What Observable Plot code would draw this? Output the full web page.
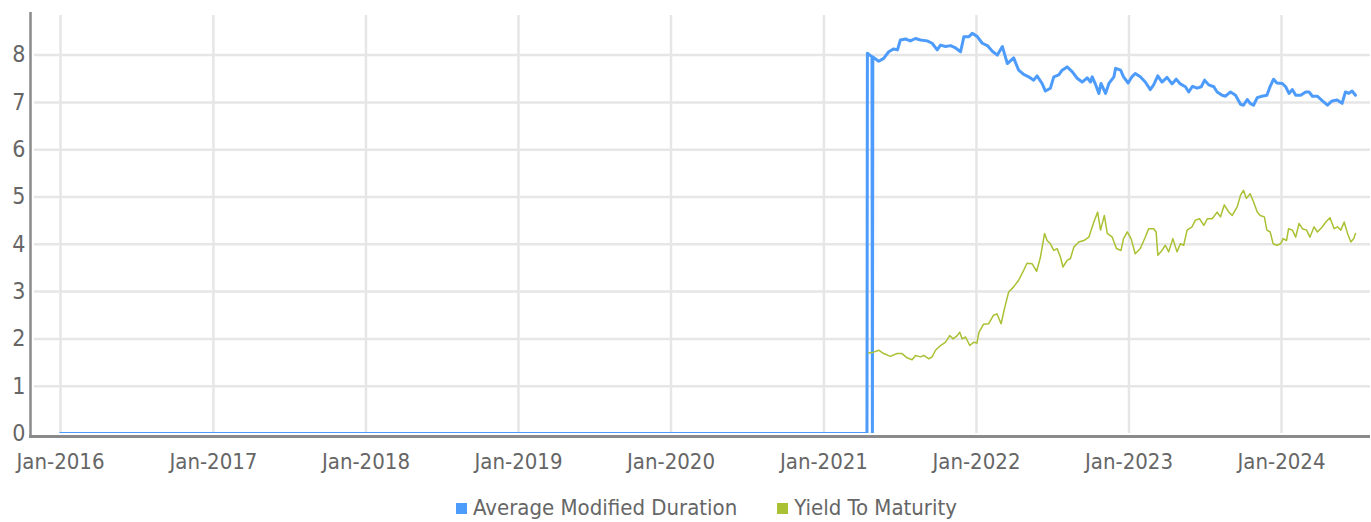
<!DOCTYPE html>
<html>
<head>
<meta charset="utf-8">
<script src="https://cdn.jsdelivr.net/npm/d3@7"></script>
<script src="https://cdn.jsdelivr.net/npm/@observablehq/plot@0.6"></script>
<style>
  html, body { margin: 0; padding: 0; background: #fff; }
  body { width: 1371px; height: 522px; overflow: hidden; font-family: "DejaVu Sans Condensed", "DejaVu Sans", sans-serif; }
  #legend { display: flex; justify-content: center; align-items: center; font-size: 22px; line-height: 26px; color: #666; margin-top: 5px; height: 26px; padding-left: 42px; }
  #legend .item { display: flex; align-items: center; }
  #legend .sw { width: 11px; height: 11px; margin-right: 6px; }
  #legend .gap { width: 40px; }
</style>
</head>
<body>
<div id="chart"></div>
<div id="legend"></div>
<script>
// ---- Data ----
const seriesNames = ["Average Modified Duration", "Yield To Maturity"];
const seriesColors = ["#4d9cfc", "#a9c132"];

const durDates = [
  "2016-01-01","2021-04-14","2021-04-15","2021-04-26","2021-04-27","2021-04-28","2021-05-12","2021-05-24",
  "2021-06-05","2021-06-17","2021-06-26","2021-07-03","2021-07-15","2021-07-27","2021-08-08","2021-08-20",
  "2021-09-05","2021-09-17","2021-09-29","2021-10-07","2021-10-19","2021-10-31","2021-11-12","2021-11-24",
  "2021-12-02","2021-12-14","2021-12-22","2022-01-03","2022-01-15","2022-01-27","2022-02-08","2022-02-20",
  "2022-03-04","2022-03-16","2022-03-31","2022-04-12","2022-04-24","2022-05-06","2022-05-18","2022-05-26",
  "2022-06-07","2022-06-15","2022-06-27","2022-07-05","2022-07-17","2022-07-25","2022-08-06","2022-08-18",
  "2022-08-30","2022-09-11","2022-09-23","2022-10-01","2022-10-05","2022-10-13","2022-10-21","2022-10-26",
  "2022-11-06","2022-11-14","2022-11-26","2022-11-30","2022-12-12","2022-12-19","2022-12-30","2023-01-08",
  "2023-01-16","2023-01-28","2023-02-09","2023-02-21","2023-03-01","2023-03-11","2023-03-21","2023-04-02",
  "2023-04-14","2023-04-24","2023-05-04","2023-05-16","2023-05-24","2023-06-02","2023-06-13","2023-06-23",
  "2023-07-01","2023-07-11","2023-07-23","2023-07-31","2023-08-12","2023-08-20","2023-09-01","2023-09-13",
  "2023-09-25","2023-10-02","2023-10-11","2023-10-18","2023-10-26","2023-11-04","2023-11-15","2023-11-27",
  "2023-12-05","2023-12-13","2023-12-21","2024-01-03","2024-01-11","2024-01-19","2024-01-27","2024-02-04",
  "2024-02-16","2024-02-28","2024-03-07","2024-03-15","2024-03-27","2024-04-08","2024-04-20","2024-05-01",
  "2024-05-13","2024-05-25","2024-06-02","2024-06-10","2024-06-18","2024-06-26"
];
const durValues = [
  0,0,8.04,7.96,0,7.96,7.87,7.93,
  8.07,8.13,8.11,8.32,8.34,8.30,8.35,8.32,
  8.30,8.25,8.11,8.21,8.18,8.20,8.15,8.07,
  8.39,8.39,8.46,8.39,8.25,8.20,8.08,8.00,
  8.18,7.82,7.94,7.68,7.59,7.54,7.47,7.56,
  7.40,7.24,7.30,7.54,7.58,7.68,7.75,7.65,
  7.51,7.43,7.52,7.43,7.54,7.38,7.19,7.40,
  7.19,7.40,7.54,7.72,7.68,7.54,7.41,7.54,
  7.61,7.54,7.43,7.27,7.37,7.56,7.43,7.53,
  7.39,7.49,7.39,7.33,7.22,7.34,7.30,7.33,
  7.47,7.37,7.33,7.22,7.15,7.13,7.22,7.15,
  6.96,6.94,7.06,6.98,6.94,7.10,7.13,7.15,
  7.34,7.49,7.41,7.40,7.33,7.19,7.27,7.15,
  7.15,7.22,7.22,7.13,7.13,7.03,6.94,7.03,
  7.05,6.98,7.22,7.19,7.24,7.15
];

const ytmDates = [
  "2021-04-18","2021-04-30","2021-05-12","2021-05-24","2021-06-09","2021-06-25","2021-07-07","2021-07-19",
  "2021-07-31","2021-08-08","2021-08-20","2021-08-28","2021-09-09","2021-09-17","2021-09-25","2021-10-07",
  "2021-10-19","2021-10-29","2021-11-06","2021-11-16","2021-11-22","2021-11-28","2021-12-06","2021-12-16",
  "2021-12-26","2022-01-02","2022-01-07","2022-01-18","2022-01-30","2022-02-11","2022-02-19","2022-03-01",
  "2022-03-09","2022-03-19","2022-03-31","2022-04-12","2022-04-24","2022-05-02","2022-05-14","2022-05-25",
  "2022-06-03","2022-06-13","2022-06-19","2022-06-27","2022-07-05","2022-07-13","2022-07-21","2022-07-27",
  "2022-08-06","2022-08-14","2022-08-22","2022-09-03","2022-09-15","2022-09-27","2022-10-01","2022-10-09",
  "2022-10-18","2022-10-25","2022-11-03","2022-11-10","2022-11-22","2022-12-02","2022-12-13","2022-12-19",
  "2022-12-28","2023-01-06","2023-01-16","2023-01-28","2023-02-09","2023-02-17","2023-03-01","2023-03-07",
  "2023-03-11","2023-03-21","2023-03-29","2023-04-06","2023-04-16","2023-04-26","2023-05-04","2023-05-12",
  "2023-05-20","2023-06-01","2023-06-09","2023-06-19","2023-06-29","2023-07-08","2023-07-19","2023-07-31",
  "2023-08-08","2023-08-17","2023-08-28","2023-09-05","2023-09-17","2023-09-25","2023-10-02","2023-10-09",
  "2023-10-18","2023-10-26","2023-11-04","2023-11-11","2023-11-21","2023-11-27","2023-12-05","2023-12-12",
  "2023-12-21","2023-12-30","2024-01-05","2024-01-13","2024-01-18","2024-01-27","2024-02-04","2024-02-12",
  "2024-02-20","2024-03-01","2024-03-09","2024-03-19","2024-03-27","2024-04-08","2024-04-16","2024-04-26",
  "2024-05-06","2024-05-14","2024-05-22","2024-05-30","2024-06-07","2024-06-15","2024-06-22","2024-06-26"
];
const ytmValues = [
  1.70,1.72,1.76,1.69,1.63,1.69,1.69,1.60,
  1.56,1.65,1.62,1.65,1.58,1.62,1.76,1.86,
  1.93,2.07,2.00,2.07,2.14,2.00,2.04,1.86,
  1.93,1.91,2.14,2.31,2.32,2.50,2.53,2.32,
  2.64,2.99,3.10,3.24,3.45,3.60,3.59,3.43,
  3.72,4.23,4.08,4.01,3.87,3.91,3.73,3.52,
  3.66,3.70,3.94,4.05,4.08,4.15,4.26,4.47,
  4.68,4.30,4.61,4.23,4.15,3.91,3.87,4.12,
  4.26,4.12,3.80,3.91,4.15,4.33,4.33,4.26,
  3.77,3.87,3.98,3.84,4.12,3.84,4.01,3.98,
  4.30,4.37,4.51,4.54,4.40,4.54,4.54,4.68,
  4.58,4.83,4.68,4.61,4.79,5.04,5.14,4.97,
  5.07,4.90,4.68,4.61,4.58,4.30,4.26,4.01,
  3.98,4.01,4.12,4.08,4.33,4.30,4.15,4.44,
  4.33,4.30,4.15,4.37,4.26,4.37,4.47,4.56,
  4.33,4.37,4.30,4.47,4.23,4.05,4.12,4.23
];

const xTickYears = [2016, 2017, 2018, 2019, 2020, 2021, 2022, 2023, 2024];
const yTicks = [0, 1, 2, 3, 4, 5, 6, 7, 8];
const xDomain = ["2015-10-26", "2024-08-01"];
const yDomain = [0, 8.9];

// ---- Build tables ----
const parse = d3.utcParse("%Y-%m-%d");
const dur = durDates.map((d, i) => ({date: parse(d), value: durValues[i]}));
const ytm = ytmDates.map((d, i) => ({date: parse(d), value: ytmValues[i]}));
const xTicks = xTickYears.map(y => new Date(Date.UTC(y, 0, 1)));
const x0 = parse(xDomain[0]);

const grid = "#e6e6e6";
const axisCol = "#8a8a8a";
const textCol = "#666";

const chart = Plot.plot({
  width: 1371,
  height: 490,
  marginTop: 12,
  marginBottom: 57,
  marginLeft: 32,
  marginRight: 1,
  style: {fontFamily: '"DejaVu Sans Condensed", "DejaVu Sans", sans-serif', fontSize: "22px", color: textCol, background: "#fff"},
  x: {type: "utc", domain: xDomain.map(parse)},
  y: {domain: yDomain},
  marks: [
    Plot.ruleY(yTicks.filter(d => d > 0), {stroke: grid, strokeWidth: 2.5, insetLeft: 2}),
    Plot.ruleX(xTicks, {stroke: grid, strokeWidth: 2.5, insetTop: 3}),
    Plot.line(dur, {x: "date", y: "value", stroke: seriesColors[0], strokeWidth: 3, curve: "linear", clip: true}),
    Plot.line(ytm, {x: "date", y: "value", stroke: seriesColors[1], strokeWidth: 1.5, clip: true}),
    Plot.ruleY([0], {dy: 3, stroke: axisCol, strokeWidth: 3, insetLeft: -3}),
    Plot.ruleX([x0], {dx: -2, stroke: axisCol, strokeWidth: 2.5, insetBottom: -5}),
    Plot.axisX({ticks: xTicks, tickFormat: d3.utcFormat("Jan-%Y"), tickSize: 0, tickPadding: 20, fill: textCol, label: null}),
    Plot.axisY({ticks: yTicks, tickSize: 0, tickPadding: 7, fill: textCol, label: null, fontSize: 23})
  ]
});
document.getElementById("chart").appendChild(chart);

const legend = document.getElementById("legend");
seriesNames.forEach((name, i) => {
  if (i > 0) { const g = document.createElement("span"); g.className = "gap"; legend.appendChild(g); }
  const item = document.createElement("span");
  item.className = "item";
  const sw = document.createElement("span");
  sw.className = "sw";
  sw.style.background = seriesColors[i];
  const t = document.createElement("span");
  t.textContent = name;
  item.appendChild(sw); item.appendChild(t);
  legend.appendChild(item);
});
</script>
</body>
</html>
